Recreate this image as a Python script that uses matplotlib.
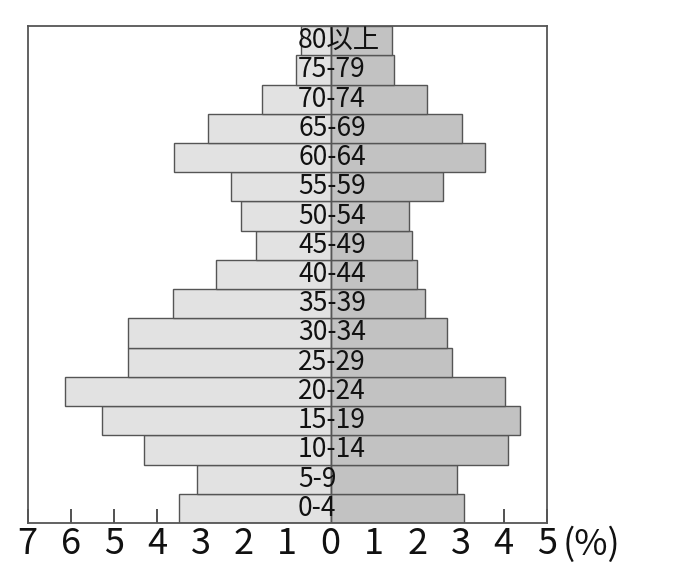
import matplotlib
matplotlib.use("Agg")
import matplotlib.pyplot as plt

# age groups, bottom to top
age_groups = ["0-4", "5-9", "10-14", "15-19", "20-24", "25-29", "30-34", "35-39",
              "40-44", "45-49", "50-54", "55-59", "60-64", "65-69", "70-74", "75-79", "80以上"]
# left side (%)
left_values = [3.51, 3.08, 4.31, 5.29, 6.13, 4.69, 4.68, 3.65,
               2.65, 1.73, 2.07, 2.31, 3.62, 2.84, 1.58, 0.80, 0.68]
# right side (%)
right_values = [3.09, 2.93, 4.09, 4.38, 4.04, 2.80, 2.69, 2.18,
                1.99, 1.88, 1.81, 2.60, 3.57, 3.04, 2.22, 1.46, 1.42]

tick_values = list(range(-7, 6))
tick_labels = [str(abs(v)) for v in tick_values]

font_list = ["Noto Sans CJK JP", "DejaVu Sans"]

fig = plt.figure(figsize=(6.98, 5.66), dpi=100)
ax = fig.add_axes([0.0395, 0.076, 0.7442, 0.878])

y = list(range(len(age_groups)))
ax.barh(y, [-v for v in left_values], height=1.0, color="#e2e2e2",
        edgecolor="#555555", linewidth=1.0, zorder=2)
ax.barh(y, right_values, height=1.0, color="#c2c2c2",
        edgecolor="#555555", linewidth=1.0, zorder=2)
ax.axvline(0, color="#555555", linewidth=1.0, zorder=3)

for yi, label in zip(y, age_groups):
    ax.text(-0.75, yi, label, ha="left", va="center", fontsize=19,
            family=font_list, color="#111111", zorder=4)

ax.set_xlim(-7, 5)
ax.set_ylim(-0.5, len(age_groups) - 0.5)
ax.set_yticks([])
ax.set_xticks(tick_values)
ax.set_xticklabels(tick_labels, fontsize=26, family=font_list, color="#111111")
ax.tick_params(axis="x", direction="in", length=10, width=1.2, color="#333333", pad=2)

# percent sign after the last tick label
ax.annotate("(%)", xy=(5, 0), xycoords=("data", "axes fraction"),
            xytext=(11, -2.5), textcoords="offset points", ha="left", va="top",
            fontsize=26, family=font_list, color="#111111")

for s in ax.spines.values():
    s.set_color("#555555")
    s.set_linewidth(1.3)

fig.savefig("out.png", dpi=100)
